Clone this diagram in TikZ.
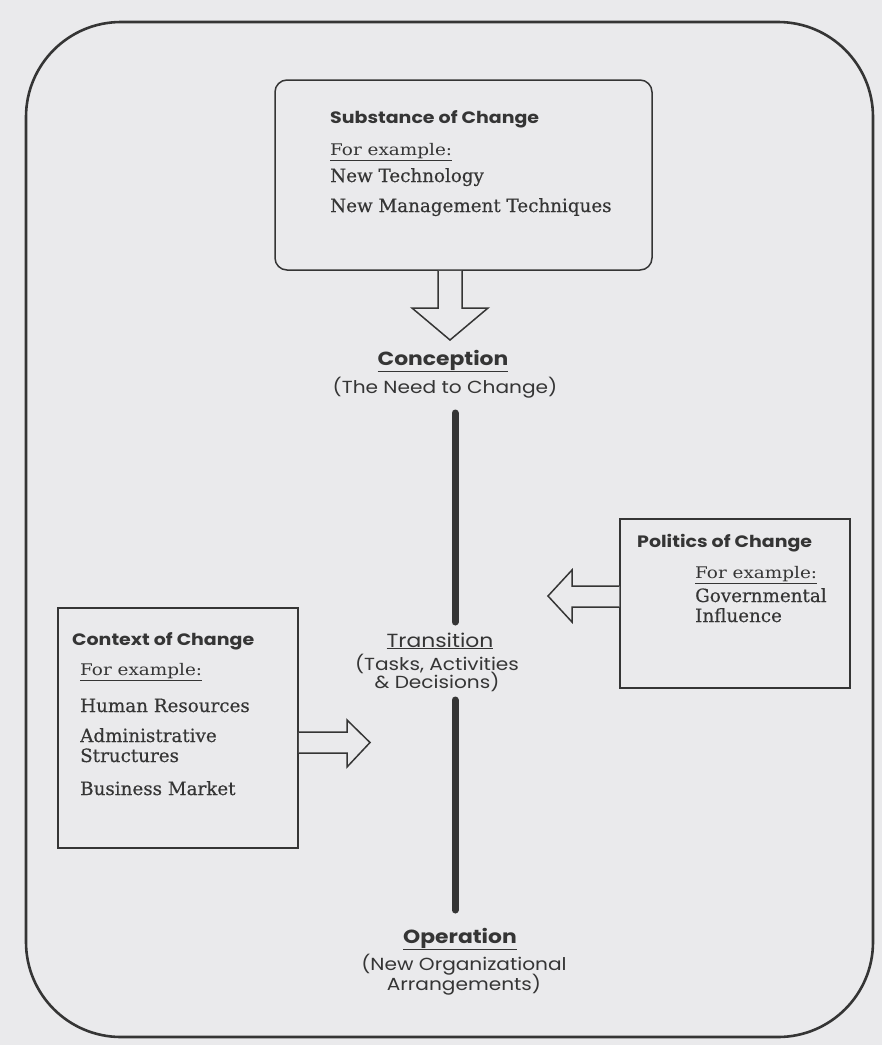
\documentclass[tikz,border=0pt]{standalone}
\usepackage{fontspec}
\setmainfont[FakeBold=0.4]{DejaVu Serif}
\newfontfamily\gothic[FakeStretch=1.15]{Poppins}
\newfontfamily\exfont[FakeStretch=1.15]{DejaVu Serif}
\definecolor{paper}{HTML}{EAEAEC}
\definecolor{ink}{HTML}{353535}
\begin{document}
\begin{tikzpicture}[x=1pt,y=-1pt,
  frame/.style={draw=ink, line width=2.6pt, rounded corners=95pt},
  panel/.style={draw=ink, line width=1.5pt, inner sep=0pt},
  head/.style={font=\gothic\bfseries\fontsize{16.5}{20}\selectfont, text=ink, anchor=base west, inner sep=0pt},
  ex/.style={font=\exfont\fontsize{16}{19}\selectfont, text=ink, anchor=base west, inner sep=0pt},
  item/.style={font=\fontsize{18.3}{21}\selectfont, text=ink, anchor=base west, inner sep=0pt},
  stage/.style={font=\gothic\bfseries\fontsize{19}{22}\selectfont, text=ink, anchor=base, inner sep=0pt},
  stagelight/.style={font=\gothic\fontsize{19}{22}\selectfont, text=ink, anchor=base, inner sep=0pt},
  stagesub/.style={font=\gothic\fontsize{17.5}{20}\selectfont, text=ink, anchor=base, inner sep=0pt},
  bigarrow/.style={draw=ink, line width=1.5pt, fill=paper, line join=miter},
  spine/.style={draw=ink, line width=7pt, line cap=round}
]
\fill[paper] (0,0) rectangle (882,1045);
\useasboundingbox (0,0) rectangle (882,1045);

% outer frame
\node[frame, minimum width=847pt, minimum height=1015pt] (outer) at (449.5,529.5) {};

% boxes
\node[panel, rounded corners=12pt, minimum width=377pt, minimum height=190pt] (subst) at (463.5,175) {};
\node[panel, minimum width=240pt, minimum height=240pt] (ctx) at (178,728) {};
\node[panel, minimum width=230pt, minimum height=169pt] (pol) at (735,603.5) {};

% substance text
\node[head] (substh) at (330,123) {Substance of Change};
\node[ex] (substex) at (330,155) {\underline{For example:}};
\node[item] (subst1) at (330,182) {New Technology};
\node[item] (subst2) at (330,212) {New Management Techniques};

% context text
\node[head] (ctxh) at (72,645) {Context of Change};
\node[ex] (ctxex) at (80,675) {\underline{For example:}};
\node[item] (ctx1) at (80,712) {Human Resources};
\node[item] (ctx2a) at (80,742) {Administrative};
\node[item] (ctx2b) at (80,762) {Structures};
\node[item] (ctx3) at (80,795) {Business Market};

% politics text
\node[head] (polh) at (637,547) {Politics of Change};
\node[ex] (polex) at (695,578) {\underline{For example:}};
\node[item] (pol1a) at (695,602) {Governmental};
\node[item] (pol1b) at (695,622) {Influence};

% stages
\node[stage] (concep) at (443,365) {\underline{Conception}};
\node[stagesub] (concepsub) at (445,393) {(The Need to Change)};
\node[stagelight] (trans) at (440,647) {\underline{Transition}};
\node[stagesub] (transsub1) at (437,670) {(Tasks, Activities};
\node[stagesub] (transsub2) at (437,688) {\& Decisions)};
\node[stage] (oper) at (460,943) {\underline{Operation}};
\node[stagesub] (opersub1) at (464,970) {(New Organizational};
\node[stagesub] (opersub2) at (464,990) {Arrangements)};

% spine
\coordinate (s1) at (455,413);
\coordinate (s2) at (455,622);
\coordinate (s3) at (455,700);
\coordinate (s4) at (455,910);
\draw[spine] (s1) -- (s2);
\draw[spine] (s3) -- (s4);

% hollow arrows
\draw[bigarrow] (subst.south -| 438,0) -- (438,308) -- (412,308) -- (450,340) -- (488,308) -- (462,308) -- (subst.south -| 462,0);
\draw[bigarrow] (ctx.east |- 0,732) -- (347,732) -- (347,720) -- (370,742.5) -- (347,767) -- (347,753) -- (ctx.east |- 0,753);
\draw[bigarrow] (pol.west |- 0,586) -- (572,586) -- (572,570) -- (548,596) -- (572,622) -- (572,607) -- (pol.west |- 0,607);
\end{tikzpicture}
\end{document}
